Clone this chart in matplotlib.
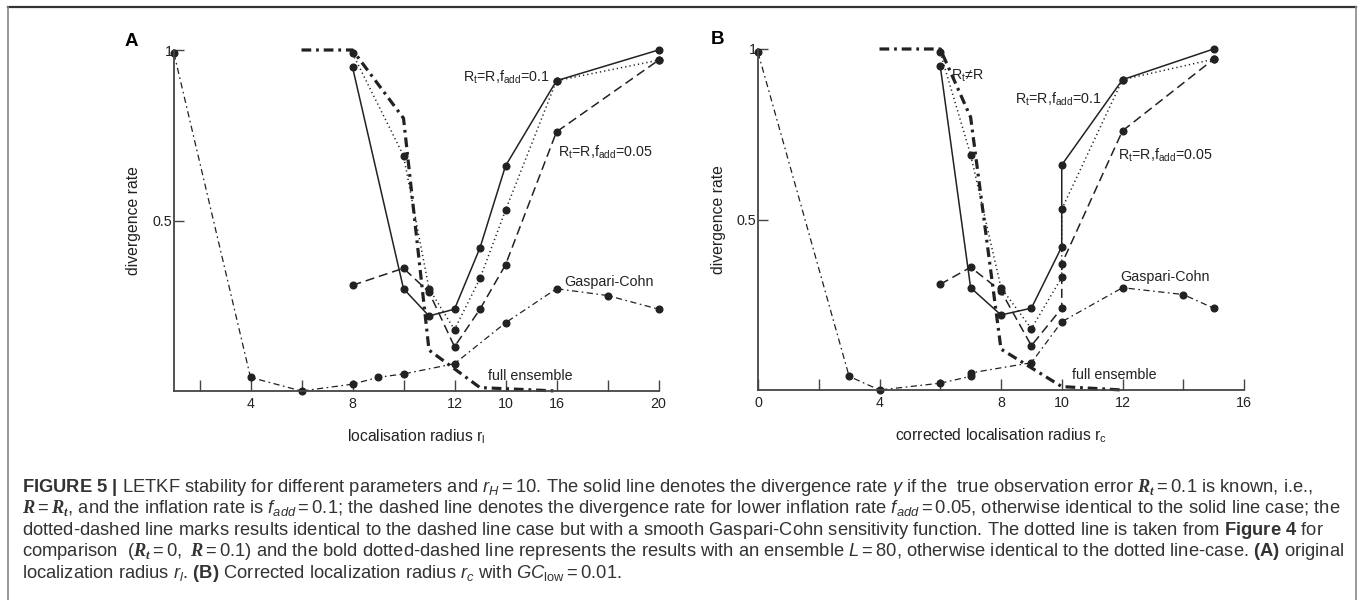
import matplotlib
matplotlib.use('Agg')
import matplotlib.pyplot as plt
from matplotlib.lines import Line2D

# panel A: original localisation radius r_l
a_solid_x = [8, 10, 11, 12, 13, 14, 16, 20]
a_solid_y = [0.95, 0.30, 0.22, 0.24, 0.42, 0.66, 0.91, 1.0]
a_dot_x = [8, 10, 11, 12, 13, 14, 16, 20]
a_dot_y = [0.99, 0.69, 0.30, 0.18, 0.33, 0.53, 0.91, 0.97]
a_dash_x = [8, 10, 11, 12, 13, 14, 16, 20]
a_dash_y = [0.31, 0.36, 0.29, 0.13, 0.24, 0.37, 0.76, 0.97]
a_gc_x = [1, 4, 6, 8, 9, 10, 12, 14, 16, 18, 20]
a_gc_y = [0.99, 0.04, 0.0, 0.02, 0.04, 0.05, 0.08, 0.20, 0.30, 0.28, 0.24]
a_full_x = [6, 8, 10, 11, 13, 16]
a_full_y = [1.0, 1.0, 0.80, 0.12, 0.01, 0.0]
a_ticks = [2, 4, 6, 8, 10, 12, 14, 16, 18, 20]
a_ticklabels = ['', '4', '', '8', '', '12', '10', '16', '', '20']

# panel B: corrected localisation radius r_c
b_solid_x = [6, 7, 8, 9, 10, 10, 12, 15]
b_solid_y = [0.95, 0.30, 0.22, 0.24, 0.42, 0.66, 0.91, 1.0]
b_dot_x = [6, 7, 8, 9, 10, 10, 12, 15]
b_dot_y = [0.99, 0.69, 0.30, 0.18, 0.33, 0.53, 0.91, 0.97]
b_dash_x = [6, 7, 8, 9, 10, 10, 12, 15]
b_dash_y = [0.31, 0.36, 0.29, 0.13, 0.24, 0.37, 0.76, 0.97]
b_gc_x = [0, 3, 4, 6, 7, 7, 9, 10, 12, 14, 15]
b_gc_y = [0.99, 0.04, 0.0, 0.02, 0.04, 0.05, 0.08, 0.20, 0.30, 0.28, 0.24]
b_full_x = [4, 6, 7, 8, 10, 12]
b_full_y = [1.0, 1.0, 0.80, 0.12, 0.01, 0.0]
b_ticks = [0, 2, 4, 6, 8, 10, 12, 14, 16]
b_ticklabels = ['0', '', '4', '', '8', '10', '12', '', '16']

yticks = [0.5, 1]
yticklabels = ['0.5', '1']

caption = [
    r'$\mathbf{FIGURE\ 5\ |}$ LETKF stability for different parameters and $r_H = 10$. The solid line denotes the divergence rate $\gamma$ if the  true observation error $\mathcal{R}_\mathcal{t} = 0.1$ is known, i.e.,',
    r'$\mathcal{R} = \mathcal{R}_\mathcal{t}$, and the inflation rate is $f_{add} = 0.1$; the dashed line denotes the divergence rate for lower inflation rate $f_{add} = 0.05$, otherwise identical to the solid line case; the',
    r'dotted-dashed line marks results identical to the dashed line case but with a smooth Gaspari-Cohn sensitivity function. The dotted line is taken from $\mathbf{Figure\ 4}$ for',
    r'comparison  ($\mathcal{R}_\mathcal{t} = 0,\ \mathcal{R} = 0.1$) and the bold dotted-dashed line represents the results with an ensemble $L = 80$, otherwise identical to the dotted line-case. $\mathbf{(A)}$ original',
    r'localization radius $r_l$. $\mathbf{(B)}$ Corrected localization radius $r_c$ with $GC_{\mathrm{low}} = 0.01$.',
]

plt.rcParams['font.family'] = ['Liberation Sans', 'DejaVu Sans']
plt.rcParams['mathtext.fontset'] = 'custom'
plt.rcParams['mathtext.rm'] = 'Liberation Sans'
plt.rcParams['mathtext.it'] = 'Liberation Sans:italic'
plt.rcParams['mathtext.bf'] = 'Liberation Sans:bold'
plt.rcParams['mathtext.cal'] = 'Liberation Serif:bold:italic'
plt.rcParams['lines.scale_dashes'] = False

W, H = 1360, 600
fig = plt.figure(figsize=(W / 100, H / 100), dpi=100)

ink = '#222222'
axis_col = '#444444'


def px_axes(left, right, top, bottom):
    return fig.add_axes([left / W, 1 - bottom / H, (right - left) / W, (bottom - top) / H])


def draw_panel(ax, solid, dot, dash, gc, full, xlim, ticks, ticklabels):
    mk = dict(marker='o', markersize=4.8, markerfacecolor=ink, markeredgecolor=ink, clip_on=False)
    ax.plot(*full, color=ink, lw=2.3, dashes=(7, 3.5, 2, 3.5), clip_on=False)
    ax.plot(*gc, color=ink, lw=0.9, dashes=(4.5, 2.5, 1.2, 2.5), **mk)
    ax.plot(*dash, color=ink, lw=1.1, dashes=(6.5, 3.5), **mk)
    ax.plot(*dot, color=ink, lw=1.1, dashes=(0.9, 2.2), **mk)
    ax.plot(*solid, color=ink, lw=1.1, **mk)
    ax.set_xlim(*xlim)
    ax.set_ylim(0, 1)
    for s in ['top', 'right']:
        ax.spines[s].set_visible(False)
    for s in ['left', 'bottom']:
        ax.spines[s].set_color(axis_col)
        ax.spines[s].set_linewidth(1.3)
    ax.set_xticks(ticks)
    ax.set_xticklabels(ticklabels)
    ax.set_yticks(yticks)
    ax.set_yticklabels(yticklabels)
    ax.tick_params(axis='x', direction='in', length=8, width=1, color=axis_col,
                   labelsize=10.3, pad=4, labelcolor=ink)
    ax.tick_params(axis='y', direction='in', length=7, width=1, color=axis_col,
                   labelsize=10.3, pad=1, labelcolor=ink)
    ax.patch.set_alpha(0)


ann = dict(fontsize=10.3, color=ink)

# panel A
axA = px_axes(174, 658.5, 50, 391)
draw_panel(axA, (a_solid_x, a_solid_y), (a_dot_x, a_dot_y), (a_dash_x, a_dash_y),
           (a_gc_x, a_gc_y), (a_full_x, a_full_y), (1, 20), a_ticks, a_ticklabels)
axA.text(15.72, 0.92, r'R$_\mathrm{t}$=R,f$_\mathrm{add}$=0.1', ha='right', va='center', **ann)
axA.text(16.05, 0.70, r'R$_\mathrm{t}$=R,f$_\mathrm{add}$=0.05', ha='left', va='center', **ann)
axA.text(16.3, 0.32, 'Gaspari-Cohn', ha='left', va='center', **ann)
axA.text(13.3, 0.045, 'full ensemble', ha='left', va='center', **ann)
axA.text(-0.0826, 0.5, 'divergence rate', rotation=90, ha='center', va='center',
         transform=axA.transAxes, fontsize=11.3, color=ink)
axA.text(0.5, -0.135, r'localisation radius r$_\mathrm{l}$', ha='center', va='center',
         transform=axA.transAxes, fontsize=11.3, color=ink)
fig.text(131 / W, 1 - 41 / H, 'A', fontsize=13.5, fontweight='bold', ha='center', va='center', color='black')

# panel B
axB = px_axes(758, 1244, 49, 390)
draw_panel(axB, (b_solid_x, b_solid_y), (b_dot_x, b_dot_y), (b_dash_x, b_dash_y),
           (b_gc_x, b_gc_y), (b_full_x, b_full_y), (0, 16), b_ticks, b_ticklabels)
axB.text(6.9, 0.92, r'R$_\mathrm{t}$≠R', ha='center', va='center', **ann)
axB.text(11.32, 0.853, r'R$_\mathrm{t}$=R,f$_\mathrm{add}$=0.1', ha='right', va='center', **ann)
axB.text(11.85, 0.687, r'R$_\mathrm{t}$=R,f$_\mathrm{add}$=0.05', ha='left', va='center', **ann)
axB.text(11.92, 0.331, 'Gaspari-Cohn', ha='left', va='center', **ann)
axB.text(10.34, 0.045, 'full ensemble', ha='left', va='center', **ann)
axB.text(-0.081, 0.5, 'divergence rate', rotation=90, ha='center', va='center',
         transform=axB.transAxes, fontsize=11.3, color=ink)
axB.text(0.5, -0.135, r'corrected localisation radius r$_\mathrm{c}$', ha='center', va='center',
         transform=axB.transAxes, fontsize=11.3, color=ink)
fig.text(717 / W, 1 - 40 / H, 'B', fontsize=13.5, fontweight='bold', ha='center', va='center', color='black')

# frame round the figure
fig.add_artist(Line2D([8 / W, 1356 / W], [1 - 7 / H, 1 - 7 / H], transform=fig.transFigure,
                      color='#333333', lw=1.6))
for xp in [8, 1356]:
    fig.add_artist(Line2D([xp / W, xp / W], [1 - 7 / H, 0], transform=fig.transFigure,
                          color='#888888', lw=1.2))

# caption, scaled so the full lines span the box width
cap_texts = []
baselines = [492, 513, 535, 556, 578]
for line, yb in zip(caption, baselines):
    cap_texts.append(fig.text(22 / W, 1 - yb / H, line, fontsize=11, ha='left', va='baseline', color='#333333'))
fig.canvas.draw()
r = fig.canvas.get_renderer()
w = cap_texts[1].get_window_extent(r).width
size = 11 * (1340 - 22) / w
for t in cap_texts:
    t.set_fontsize(size)

fig.savefig('out.png', dpi=100)
